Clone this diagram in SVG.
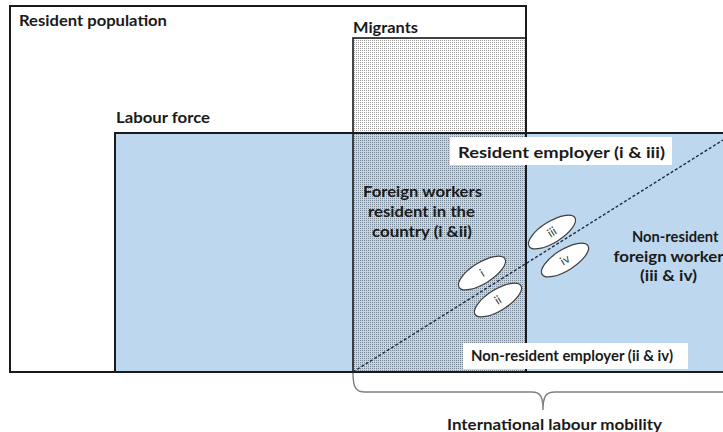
<svg xmlns="http://www.w3.org/2000/svg" width="723" height="432" viewBox="0 0 723 432">
<defs>
<pattern id="dots" width="2" height="2" patternUnits="userSpaceOnUse">
<rect x="0" y="0" width="1" height="1" fill="#000" fill-opacity="0.38"/>
</pattern>
<style>
.lbl{font-family:Lato,"Open Sans","Liberation Sans",sans-serif;font-weight:bold;font-size:14.5px;fill:#1a1a1a}
.rom{font-family:Lato,"Liberation Sans",sans-serif;font-size:12px;fill:#404040;text-anchor:middle}
.box{stroke:#1a1a1a;stroke-width:2;fill:none}
.oval{fill:#fff;stroke:#404040;stroke-width:1.2}
.tag{fill:#fff}
</style>
</defs>
<rect width="723" height="432" fill="#fff"/>
<g id="resident-population">
<rect x="10" y="6" width="516" height="366" fill="#fff"/>
<text class="lbl" x="19" y="26" textLength="148" lengthAdjust="spacingAndGlyphs">Resident population</text>
</g>
<g id="labour-force">
<rect x="115" y="133" width="620" height="239" fill="#bdd7ee"/>
<text class="lbl" x="116" y="123" textLength="94" lengthAdjust="spacingAndGlyphs">Labour force</text>
</g>
<g id="migrants">
<rect x="353" y="38" width="173" height="334" fill="url(#dots)"/>
<rect x="353" y="38" width="173" height="334" fill="none" stroke="#1a1a1a" stroke-width="1.6"/>
<text class="lbl" x="353" y="33" textLength="65" lengthAdjust="spacingAndGlyphs">Migrants</text>
</g>
<g id="borders">
<rect x="10" y="6" width="516" height="366" class="box"/>
<path d="M735,133 H115 V372 H735" class="box"/>
</g>
<g id="connectors">
<line x1="353" y1="372" x2="723" y2="140" stroke="#1f2a44" stroke-width="1.4" stroke-dasharray="3,2"/>
<path d="M353,373 C353,388 356,392 365,392 L532,392 C540,392 543,396 543,410 C543,396 546,392 555,392 L740,392" fill="none" stroke="#808080" stroke-width="1.4"/>
</g>
<g id="resident-employer">
<rect class="tag" x="450" y="137" width="222" height="28"/>
<text class="lbl" x="458" y="158" textLength="207" lengthAdjust="spacingAndGlyphs">Resident employer (i &amp; iii)</text>
</g>
<g id="non-resident-employer">
<rect class="tag" x="463" y="343" width="225" height="26"/>
<text class="lbl" x="471" y="361" textLength="202" lengthAdjust="spacingAndGlyphs">Non-resident employer (ii &amp; iv)</text>
</g>
<g id="foreign-workers-resident">
<text class="lbl" x="363" y="197" textLength="119" lengthAdjust="spacingAndGlyphs">Foreign workers</text>
<text class="lbl" x="368" y="217" textLength="107" lengthAdjust="spacingAndGlyphs">resident in the</text>
<text class="lbl" x="372" y="237" textLength="100" lengthAdjust="spacingAndGlyphs">country (i &amp;ii)</text>
</g>
<g id="non-resident-foreign-worker">
<text class="lbl" x="632" y="242" textLength="86.5" lengthAdjust="spacingAndGlyphs">Non-resident</text>
<text class="lbl" x="613.5" y="261.5" textLength="110" lengthAdjust="spacingAndGlyphs">foreign worker</text>
<text class="lbl" x="640" y="281" textLength="57" lengthAdjust="spacingAndGlyphs">(iii &amp; iv)</text>
</g>
<g id="oval-i">
<ellipse class="oval" cx="0" cy="0" rx="27" ry="10.5" transform="translate(482,273) rotate(-32)"/>
<text class="rom" transform="translate(482,273) rotate(-32)" y="4">i</text>
</g>
<g id="oval-ii">
<ellipse class="oval" cx="0" cy="0" rx="27" ry="10.5" transform="translate(498,300) rotate(-32)"/>
<text class="rom" transform="translate(498,300) rotate(-32)" y="4">ii</text>
</g>
<g id="oval-iii">
<ellipse class="oval" cx="0" cy="0" rx="27" ry="10.5" transform="translate(552,232) rotate(-32)"/>
<text class="rom" transform="translate(552,232) rotate(-32)" y="4">iii</text>
</g>
<g id="oval-iv">
<ellipse class="oval" cx="0" cy="0" rx="27" ry="10.5" transform="translate(565,260) rotate(-32)"/>
<text class="rom" transform="translate(565,260) rotate(-32)" y="4">iv</text>
</g>
<g id="international-labour-mobility">
<text class="lbl" x="447" y="430" textLength="215" lengthAdjust="spacingAndGlyphs">International labour mobility</text>
</g>
</svg>
